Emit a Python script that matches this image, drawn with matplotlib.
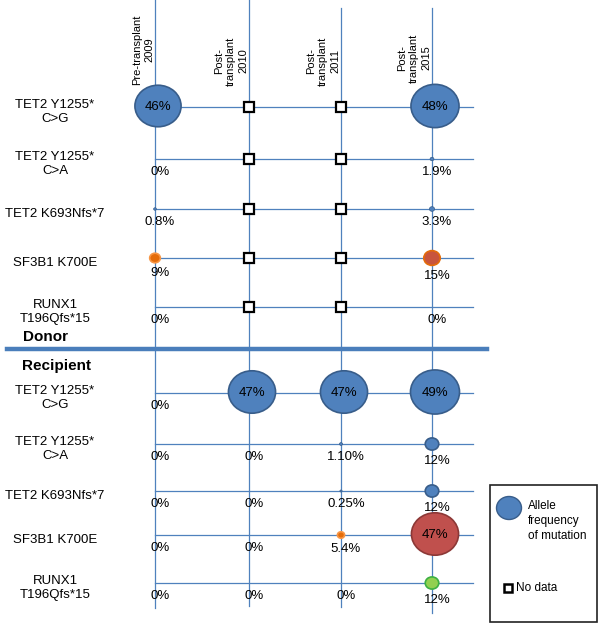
import matplotlib.pyplot as plt
from matplotlib.patches import Ellipse, Rectangle

plt.rcParams['font.family'] = ['Liberation Sans', 'DejaVu Sans']

# データ
timepoints = ['Pre-transplant\n2009', 'Post-\ntransplant\n2010',
              'Post-\ntransplant\n2011', 'Post-\ntransplant\n2015']
mutations = ['TET2 Y1255*\nC>G', 'TET2 Y1255*\nC>A', 'TET2 K693Nfs*7',
             'SF3B1 K700E', 'RUNX1\nT196Qfs*15']
genes = ['TET2', 'TET2', 'TET2', 'SF3B1', 'RUNX1']
# allele frequency (%)  None = no data
donor_vaf = [['46', None, None, '48'],
             ['0', None, None, '1.9'],
             ['0.8', None, None, '3.3'],
             ['9', None, None, '15'],
             ['0', None, None, '0']]
recipient_vaf = [['0', '47', '47', '49'],
                 ['0', '0', '1.10', '12'],
                 ['0', '0', '0.25', '12'],
                 ['0', '0', '5.4', '47'],
                 ['0', '0', '0', '12']]

# レイアウト (pixel)
col_x = [155, 249, 341, 432]
col_top = [0, 0, 8, 8]
col_bottom = [608, 606, 607, 613]
head_y = [50, 61, 61, 58]
donor_y = [107, 159, 209, 258, 307]
recip_y = [393, 444, 491, 535, 583]
line_end = 473
grid_c = '#4f81bd'


def circle_style(gene, v):
    if gene == 'SF3B1':
        if v < 10:
            return '#e46c0a', '#f79646'
        elif v < 20:
            return '#c8553d', '#e46c0a'
        return '#c0504d', '#8c3836'
    if gene == 'RUNX1':
        return '#92d050', '#3cb043'
    return '#4f81bd', '#385d8a'


fig = plt.figure(figsize=(6.04, 6.30), dpi=100)
ax = fig.add_axes([0, 0, 1, 1])
ax.set_xlim(0, 604)
ax.set_ylim(630, 0)
ax.axis('off')

# 縦線・横線
for i in range(4):
    ax.plot([col_x[i], col_x[i]], [col_top[i], col_bottom[i]], color=grid_c, lw=0.9, zorder=1)
    ax.text(col_x[i] - 1, head_y[i], timepoints[i], rotation=90, ha='right', va='center',
            multialignment='center', fontsize=8, linespacing=1.25)
for y in donor_y + recip_y:
    ax.plot([col_x[0], line_end], [y, y], color=grid_c, lw=0.9, zorder=1)

# donor / recipient 区切り
ax.plot([7, 487], [349, 349], color='#4a7ebb', lw=3.2, zorder=1)
ax.text(23, 337, 'Donor', fontsize=11, fontweight='bold', va='center')
ax.text(22, 366, 'Recipient', fontsize=11, fontweight='bold', va='center')

# 変異ごとにプロット
for rows, table in [(donor_y, donor_vaf), (recip_y, recipient_vaf)]:
    for r in range(len(mutations)):
        y = rows[r]
        ax.text(55, y + 5, mutations[r], ha='center', va='center', fontsize=9.5, linespacing=1.3)
        for c in range(4):
            s = table[r][c]
            x = col_x[c]
            if s is None:
                ax.plot(x, y, marker='s', ms=6.5, mfc='white', mec='black', mew=1.6, zorder=3)
                continue
            v = float(s)
            d = 2 + 0.96 * v
            if v > 0:
                fc, ec = circle_style(genes[r], v)
                ax.add_patch(Ellipse((x + (3 if v > 40 else 0), y - (1 if v > 40 else 0)), d, d * 0.9,
                                     fc=fc, ec=ec, lw=1.2 if v > 5 else 0.5, zorder=2))
            if v > 40:
                ax.text(x + 3, y, s + '%', ha='center', va='center', fontsize=9.5, zorder=4)
            else:
                off = max(13, d / 2 + 10) if v > 0 else 13
                ax.text(x + 5, y + off, s + '%', ha='center', va='center', fontsize=9.5)

# 凡例
ax.add_patch(Rectangle((490, 485), 107, 137, fc='white', ec='#222222', lw=1.2))
ax.add_patch(Ellipse((509, 508), 25, 23, fc='#4f81bd', ec='#385d8a', lw=1))
ax.text(528, 521, 'Allele\nfrequency\nof mutation', fontsize=8.5, va='center', linespacing=1.35)
ax.plot(508, 588, marker='s', ms=6, mfc='white', mec='black', mew=1.8)
ax.text(516, 588, 'No data', fontsize=8.5, va='center')

plt.savefig('out.png', dpi=100)
